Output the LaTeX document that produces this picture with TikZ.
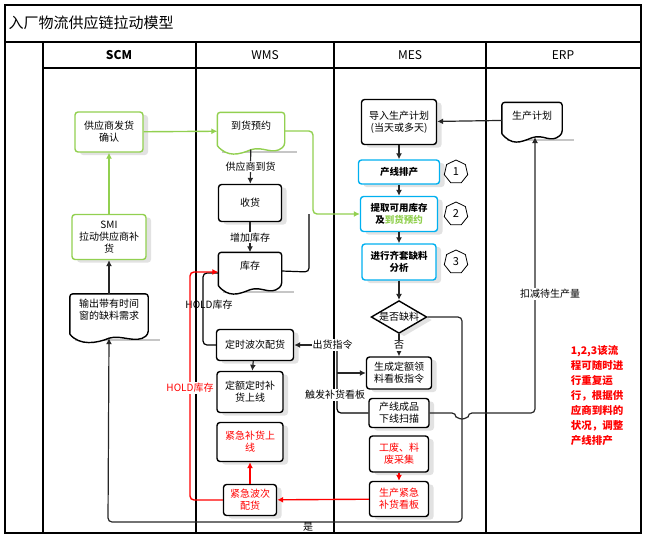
\documentclass[tikz,border=0pt]{standalone}
\usepackage{fontspec}
\setmainfont{Noto Sans CJK SC}
\usetikzlibrary{shapes.geometric,arrows.meta,shadows}
\definecolor{lgreen}{RGB}{146,208,80}
\definecolor{lcyan}{RGB}{0,176,240}
\tikzset{
  box/.style={draw, line width=1.4pt, rounded corners=3pt, fill=white, align=center,
    font=\fontsize{10}{12}\selectfont, inner sep=1pt,
    drop shadow={shadow xshift=5pt, shadow yshift=-3pt, fill=gray!45}},
  gbox/.style={box, draw=lgreen},
  cbox/.style={box, draw=lcyan, font=\fontsize{9.5}{12}\selectfont\bfseries},
  rbox/.style={box, text=red},
  doc/.style={align=center, font=\fontsize{10}{12}\selectfont, inner sep=1pt},
  num/.style={draw, thick, regular polygon, regular polygon sides=7, minimum size=24pt, inner sep=0pt, font=\fontsize{11}{12}\selectfont},
  arr/.style={-{Latex[length=6pt,width=6pt]}, line width=1.2pt, draw=black!85},
  garr/.style={arr, draw=lgreen, line width=1.4pt},
  rarr/.style={arr, draw=red, line width=1.4pt},
  lbl/.style={fill=white, inner sep=1pt, font=\fontsize{10}{12}\selectfont},
  lane/.style={line width=1.3pt}
}
\newcommand\docshape[2]{%
  \fill[gray!45] ([xshift=5pt,yshift=-3pt]#1.south west) rectangle ([xshift=12pt,yshift=-1pt]#1.south east);
  \draw[line width=1.4pt,#2,fill=white,rounded corners=3pt] ([yshift=4pt]#1.south west) -- (#1.north west) -- (#1.north east) -- ([yshift=4pt]#1.south east)
    [sharp corners] .. controls ([xshift=-12pt,yshift=-6pt]#1.south east) and ([xshift=12pt,yshift=4pt]#1.south) .. ([yshift=0pt]#1.south)
    .. controls ([xshift=-12pt,yshift=-5pt]#1.south) and ([xshift=10pt,yshift=-8pt]#1.south west) .. ([yshift=4pt]#1.south west);}
\begin{document}
\begin{tikzpicture}[x=1pt,y=-1pt]
  \useasboundingbox (0,0) rectangle (647,538);
  % lanes
  \draw[lane] (5,5) rectangle (641,533);
  \draw[lane] (5,42) -- (641,42);
  \draw[lane] (43,68) -- (641,68);
  \foreach \x in {43,196,334,486} {
    \draw[lane] (\x,42) -- (\x,533);
  }
  \node[anchor=west, font=\fontsize{15}{17}\selectfont] (title) at (5,23) {入厂物流供应链拉动模型};
  \foreach \x/\name/\txt in {119/scm/\textbf{SCM}, 265/wms/WMS, 410/mes/MES, 563/erp/ERP} {
    \node[font=\fontsize{12}{14}\selectfont] (\name) at (\x,55) {\txt};
  }

  % SCM
  \node[gbox, minimum width=68pt, minimum height=40pt] (ship) at (109,132) {供应商发货\\确认};
  \node[gbox, minimum width=74pt, minimum height=45pt] (smi) at (109,237) {SMI\\拉动供应商补\\货};
  \node[doc, minimum width=78pt, minimum height=44pt] (need) at (109,316) {};
  \docshape{need}{}
  \node[doc] at (109,310) {输出带有时间\\窗的缺料需求};

  % WMS
  \node[doc, minimum width=67pt, minimum height=37pt] (book) at (251,131) {};
  \docshape{book}{draw=lgreen}
  \node[doc] at (251,126) {到货预约};
  \node[box, minimum width=63pt, minimum height=37pt] (recv) at (250,203) {收货};
  \node[doc, minimum width=63pt, minimum height=37pt] (stock) at (250,271) {};
  \docshape{stock}{}
  \node[doc] at (250,266) {库存};
  \node[box, minimum width=77pt, minimum height=31pt] (wave) at (255,345) {定时波次配货};
  \node[box, minimum width=66pt, minimum height=41pt] (fixed) at (250,392) {定额定时补\\货上线};
  \node[rbox, minimum width=66pt, minimum height=39pt] (urgup) at (250,442) {紧急补货上\\线};
  \node[rbox, minimum width=53pt, minimum height=31pt] (urgwave) at (250,500) {紧急波次\\配货};

  % MES
  \node[box, minimum width=75pt, minimum height=45pt] (plan) at (399,122) {导入生产计划\\(当天或多天)};
  \node[cbox, minimum width=81pt, minimum height=24pt] (sched) at (399,172) {产线排产};
  \node[cbox, minimum width=77pt, minimum height=35pt] (fetch) at (399,214) {提取可用库存\\及\textcolor{lgreen}{到货预约}};
  \node[cbox, minimum width=74pt, minimum height=36pt] (kit) at (399,262) {进行齐套缺料\\分析};
  \foreach \i/\y in {1/172, 2/214, 3/262} {
    \node[num] (n\i) at (456,\y) {\i};
  }
  \node[draw, line width=1.4pt, diamond, aspect=1.7, fill=white, inner sep=0pt, font=\fontsize{10}{12}\selectfont,
    drop shadow={shadow xshift=5pt, shadow yshift=-3pt, fill=gray!45}] (short) at (399,317) {是否缺料};
  \node[box, minimum width=65pt, minimum height=32pt] (pick) at (399,373) {生成定额领\\料看板指令};
  \node[box, minimum width=60pt, minimum height=29pt] (scan) at (399,413) {产线成品\\下线扫描};
  \node[rbox, minimum width=59pt, minimum height=36pt] (scrap) at (399,454) {工废、料\\废采集};
  \node[rbox, minimum width=59pt, minimum height=35pt] (kanban) at (399,499) {生产紧急\\补货看板};

  % ERP
  \node[doc, minimum width=60pt, minimum height=35pt] (prod) at (532,120) {};
  \docshape{prod}{}
  \node[doc] at (532,116) {生产计划};
  \node[align=left, text=red, font=\fontsize{10.5}{15}\selectfont\bfseries] (note) at (597,396)
    {1,2,3该流\\程可随时进\\行重复运\\行，根据供\\应商到料的\\状况，调整\\产线排产};

  % connectors
  \draw[garr] (ship) -- (book);
  \draw[garr] (smi) -- (ship);
  \draw[arr] (need) -- (smi);
  \draw[arr] (book) -- node[lbl] {供应商到货} (recv);
  \draw[arr] (recv) -- node[lbl] {增加库存} (stock);
  \draw[garr, rounded corners=4pt] (book.east) -- (313,131) -- (313,214) -- (fetch.west);
  \draw[line width=1.2pt, rounded corners=4pt] (stock.east) -- (309,272) -- (309,214);
  \draw[line width=1.2pt, rounded corners=4pt] (wave.west) -- (203,345) -- (203,273) -- (stock.west |- 0,273);
  \node[lbl, fill=none] (hold) at (209,305) {HOLD库存};
  \draw[rarr, rounded corners=4pt] (urgwave.west) -- (190,500) -- (190,272) -- (stock.west |- 0,272);
  \node[lbl, text=red] (holdr) at (190,388) {HOLD库存};
  \draw[rarr] (urgwave) -- (urgup);
  \draw[rarr] (kanban) -- (urgwave);
  \draw[rarr] (scrap) -- (kanban);
  \draw[arr] (wave) -- (fixed);
  \draw[line width=1.2pt, rounded corners=4pt] (scan.west) -- (337,413) -- (337,345);
  \draw[arr] (337,345) -- node[lbl, pos=0.1] {出货指令} (wave.east);
  \draw[arr] (337,373) -- (pick.west);
  \node[lbl] (trig) at (335,395) {触发补货看板};
  \draw[arr] (prod) -- (plan);
  \draw[arr] (plan) -- (sched);
  \draw[arr] (sched) -- (fetch);
  \draw[arr] (fetch) -- (kit);
  \draw[arr] (kit) -- (short);
  \draw[arr] (short) -- node[lbl] {否} (pick);
  \draw[arr, rounded corners=4pt] (short.east) -- (462,317) -- (462,522) -- (108,522) -- (need.south);
  \node[lbl, fill=none] (yes) at (308,527) {是};
  \draw[arr, rounded corners=4pt] (scan.east) -- (456,413) arc[start angle=180, end angle=0, radius=6] -- (535,413) -- (535,137);
  \node[lbl] (deduct) at (550,294) {扣减待生产量};
\end{tikzpicture}
\end{document}
